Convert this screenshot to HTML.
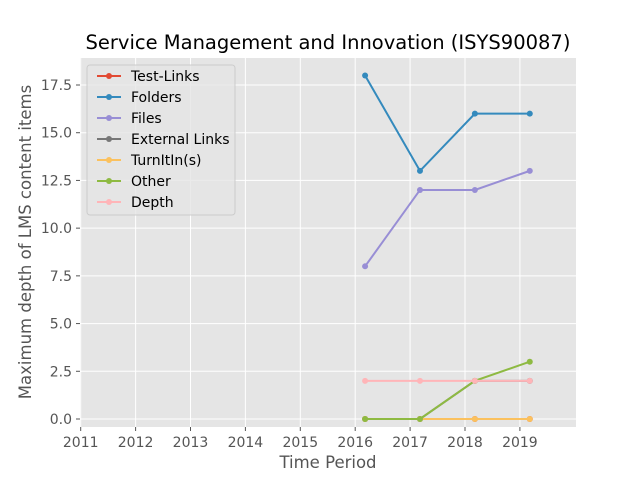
<!DOCTYPE html>
<html><head><meta charset="utf-8"><style>
body{margin:0;background:#fff;}
svg text{font-family:"DejaVu Sans","Liberation Sans",sans-serif;}
</style></head><body>
<svg id="chart" width="640" height="480" xmlns="http://www.w3.org/2000/svg">
<rect x="0" y="0" width="640" height="480" fill="#fff"/>
<text x="328" y="49" font-size="19.5" text-anchor="middle" fill="#000">Service Management and Innovation (ISYS90087)</text>
<rect x="80" y="58" width="496" height="369" fill="#e5e5e5"/>
<g id="grid"></g><g id="ticks"></g><g id="series"></g>
<text x="328" y="468" font-size="16.5" text-anchor="middle" fill="#555">Time Period</text>
<text transform="translate(31,242) rotate(-90)" font-size="16.5" text-anchor="middle" fill="#555">Maximum depth of LMS content items</text>
<g id="legend"></g>
</svg>
<script>
const xTimes=[2016.18,2017.18,2018.18,2019.18];
const seriesNames=["Test-Links","Folders","Files","External Links","TurnItIn(s)","Other","Depth"];
const testLinks=[0,0,0,0];
const folders=[18,13,16,16];
const files=[8,12,12,13];
const externalLinks=[0,0,2,2];
const turnitin=[0,0,0,0];
const other=[0,0,2,3];
const depth=[2,2,2,2];
const xTickLabels=[2011,2012,2013,2014,2015,2016,2017,2018,2019];
const yTickLabels=[0,2.5,5,7.5,10,12.5,15,17.5];
const colors=["#E24A33","#348ABD","#988ED5","#777777","#FBC15E","#8EBA42","#FFB5B8"];
const allSeries=[testLinks,folders,files,externalLinks,turnitin,other,depth];
const NS="http://www.w3.org/2000/svg";
const X=v=>80.7+(v-2011)*54.9;
const Y=v=>419-v*19.086;
function mk(tag,attrs,parent){const e=document.createElementNS(NS,tag);for(const k in attrs)e.setAttribute(k,attrs[k]);parent.appendChild(e);return e;}
const grid=document.getElementById('grid'),ticks=document.getElementById('ticks'),ser=document.getElementById('series'),leg=document.getElementById('legend');
xTickLabels.forEach(t=>{const x=X(t);
 const g=mk('line',{x1:x,x2:x,y1:58,y2:427,stroke:'#fff','stroke-width':1},grid);
 
 
 mk('line',{x1:x,x2:x,y1:427,y2:431,stroke:'#555'},ticks);
 const tx=mk('text',{x:x,y:447,'font-size':14,'text-anchor':'middle',fill:'#555'},ticks);tx.textContent=t;
 
 
});
yTickLabels.forEach(t=>{const y=Y(t);
 const g=mk('line',{x1:80,x2:576,y1:y,y2:y,stroke:'#fff','stroke-width':1},grid);
 
 
 mk('line',{x1:76,x2:80,y1:y,y2:y,stroke:'#555'},ticks);
 const tx=mk('text',{x:72,y:y+5,'font-size':14,'text-anchor':'end',fill:'#555'},ticks);tx.textContent=t.toFixed(1);
 
 
});
allSeries.forEach((s,i)=>{
 const pts=s.map((v,j)=>X(xTimes[j])+','+Y(v)).join(' ');
 const pl=mk('polyline',{points:pts,fill:'none',stroke:colors[i],'stroke-width':2},ser);
 
 
 s.forEach((v,j)=>{const c=mk('circle',{cx:X(xTimes[j]),cy:Y(v),r:3,fill:colors[i]},ser);
  
  });
});
mk('rect',{x:87,y:65,width:148,height:150,rx:3,fill:'#e5e5e5',stroke:'#ccc','fill-opacity':0.8},leg);
seriesNames.forEach((n,i)=>{const y=76+i*21;
 const g=mk('g',{},leg);
 
 
 mk('line',{x1:97,x2:121,y1:y,y2:y,stroke:colors[i],'stroke-width':2},g);
 mk('circle',{cx:109,cy:y,r:3,fill:colors[i]},g);
 const t=mk('text',{x:131,y:y+5,'font-size':14,fill:'#000'},g);t.textContent=n;
});
</script>
</body></html>
